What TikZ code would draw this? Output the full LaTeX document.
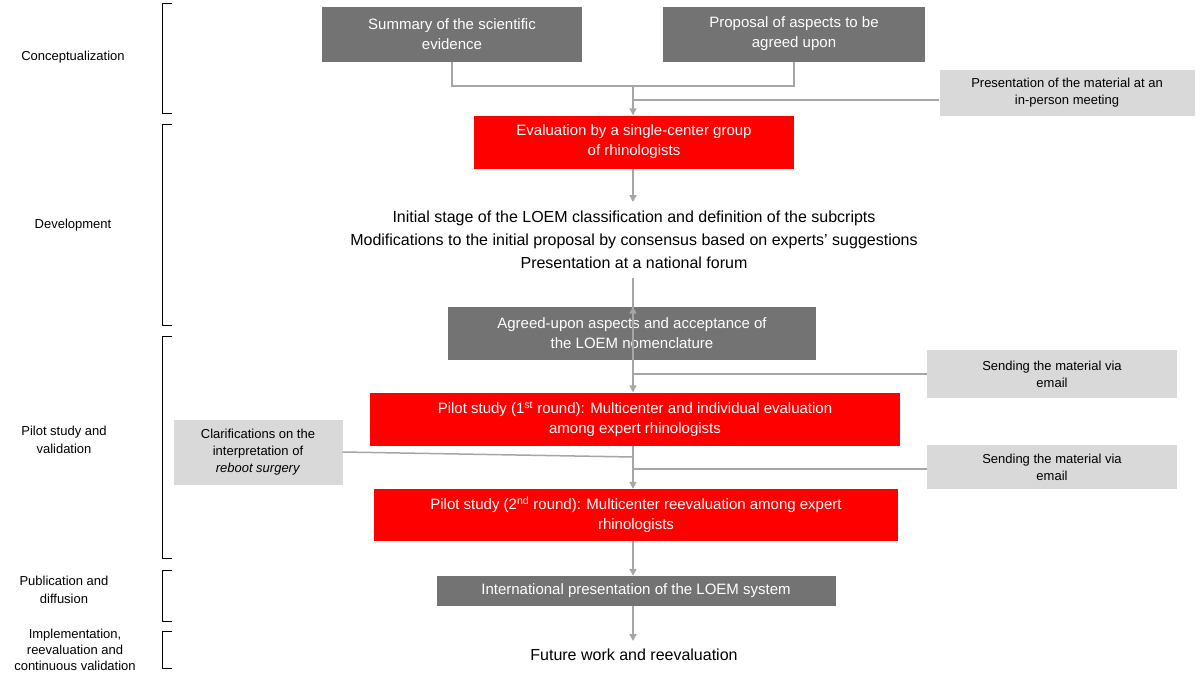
\documentclass[tikz,border=0pt]{standalone}
\usepackage{fontspec}
\setmainfont{Liberation Sans}
\usetikzlibrary{arrows.meta}
\definecolor{dg}{HTML}{737373}
\definecolor{lg}{HTML}{D9D9D9}
\definecolor{rd}{HTML}{FF0000}
\definecolor{ln}{HTML}{A6A6A6}
\begin{document}
\begin{tikzpicture}[x=1pt,y=-1pt,
  base/.style={inner sep=0pt,align=center,font=\fontsize{15}{20}\selectfont},
  dbox/.style={base,fill=dg,text=white,minimum height=#1},
  rbox/.style={base,fill=rd,text=white,minimum height=53},
  lbox/.style={base,fill=lg,text=black,font=\fontsize{13}{17}\selectfont},
  side/.style={align=center,font=\fontsize{13}{18}\selectfont},
  con/.style={draw=ln,line width=1.5pt},
  arr/.style={con,-{Triangle[length=7pt,width=7pt]}},
  brk/.style={draw=black,line width=0.8pt}]
\useasboundingbox (0,0) rectangle (1200,675);
\fill[white] (0,0) rectangle (1200,675);
% boxes
\node[dbox=55,minimum width=260] (s) at (452,34) {Summary of the scientific\\evidence};
\node[dbox=55,minimum width=262] (p) at (794,34) {Proposal of aspects to be\\agreed upon};
\node[lbox,minimum width=255,minimum height=46] (pm) at (1067,93) {Presentation of the material at an\\in-person meeting};
\node[rbox,minimum width=320] (ev) at (634,142) {Evaluation by a single-center group\\of rhinologists};
\node[base,font=\fontsize{16}{23}\selectfont] (txt) at (634,240) {Initial stage of the LOEM classification and definition of the subcripts\\Modifications to the initial proposal by consensus based on experts’ suggestions\\Presentation at a national forum};
\node[dbox=53,minimum width=368] (ag) at (632,333) {Agreed-upon aspects and acceptance of\\the LOEM nomenclature};
\node[lbox,minimum width=250,minimum height=48] (se1) at (1052,374) {Sending the material via\\email};
\node[rbox,minimum width=530] (p1) at (635,419) {Pilot study (1\textsuperscript{st} round): Multicenter and individual evaluation\\among expert rhinologists};
\node[lbox,minimum width=169,minimum height=65] (cl) at (258,452) {Clarifications on the\\interpretation of\\\textit{reboot surgery}};
\node[lbox,minimum width=250,minimum height=44] (se2) at (1052,467) {Sending the material via\\email};
\node[rbox,minimum width=524,minimum height=52] (p2) at (636,515) {Pilot study (2\textsuperscript{nd} round): Multicenter reevaluation among expert\\rhinologists};
\node[dbox=30,minimum width=399] (in) at (636,591) {International presentation of the LOEM system};
\node[base,font=\fontsize{16}{20}\selectfont] (fw) at (634,655) {Future work and reevaluation};
% connectors
\coordinate (j) at (633,86);
\draw[con] (s.south) -- (452,86) -- (794,86) -- (p.south);
\draw[arr] (j) -- (ev.north -| j);
\draw[con] (pm.west |- 0,100) -- (633,100);
\draw[arr] (ev.south -| 633,0) -- (633,202);
\draw[arr] (633,278) -- (ag.south -| 633,0) ++(0,-53);
\draw[arr] (ag.south -| 633,0) -- (p1.north -| 633,0);
\draw[con] (se1.west) -- (633,374);
\draw[arr] (p1.south -| 633,0) -- (p2.north -| 633,0);
\draw[con] (cl.east) -- (633,457);
\draw[con] (se2.west |- 0,469) -- (633,469);
\draw[arr] (p2.south -| 633,0) -- (in.north -| 633,0);
\draw[arr] (in.south -| 633,0) -- (633,641);
% brackets and labels
\foreach \a/\b in {3/113,124/325,336/558,570/621,631/668}
  \draw[brk] (172,\a) -- (162,\a) -- (162,\b) -- (172,\b);
\node[side] (l1) at (73,57) {Conceptualization};
\node[side] (l2) at (73,225) {Development};
\node[side] (l3) at (64,440) {Pilot study and\\validation};
\node[side] (l4) at (64,590) {Publication and\\diffusion};
\node[side,font=\fontsize{13}{16}\selectfont] (l5) at (75,650) {Implementation,\\reevaluation and\\continuous validation};
\end{tikzpicture}
\end{document}
